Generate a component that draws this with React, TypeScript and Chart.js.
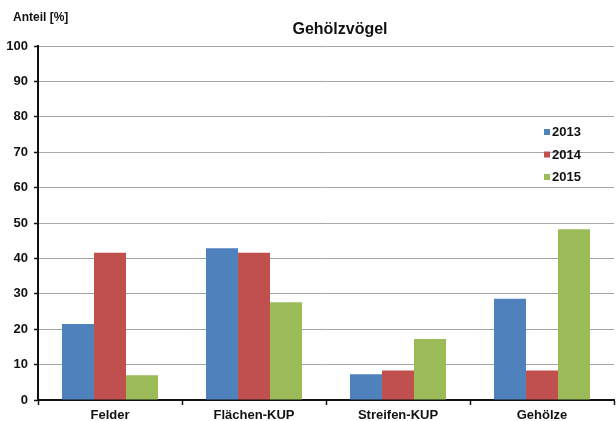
import React, { useEffect, useRef } from "react";
import { Chart, registerables } from "chart.js";

Chart.register(...registerables);

const categories = ["Felder", "Flächen-KUP", "Streifen-KUP", "Gehölze"];
const seriesLabels = ["2013", "2014", "2015"];
const values2013 = [21.5, 42.9, 7.3, 28.6];
const values2014 = [41.6, 41.6, 8.3, 8.3];
const values2015 = [7.0, 27.6, 17.2, 48.2];
const colors = ["#4f81bd", "#c0504d", "#9bbb59"];
const chartTitle = "Gehölzvögel";
const yAxisTitle = "Anteil [%]";

const FONT = "'Liberation Sans', Arial, sans-serif";

const overlayPlugin = {
  id: "overlay",
  afterDraw(chart: any) {
    const ctx = chart.ctx;
    ctx.save();
    ctx.fillStyle = "#111";
    ctx.font = `bold 16px ${FONT}`;
    ctx.textAlign = "center";
    ctx.textBaseline = "middle";
    ctx.fillText(chartTitle, 340, 30);
    ctx.font = `bold 12px ${FONT}`;
    ctx.textAlign = "left";
    ctx.fillText(yAxisTitle, 13, 18);
    // legend
    ctx.font = `bold 13px ${FONT}`;
    chart.data.datasets.forEach((ds: any, i: number) => {
      const y = 132 + i * 22.5;
      ctx.fillStyle = ds.backgroundColor;
      ctx.fillRect(544, y - 3, 6, 6);
      ctx.fillStyle = "#111";
      ctx.textAlign = "left";
      ctx.fillText(ds.label, 552, y + 0.5);
    });
    ctx.restore();
  },
};

export default function App() {
  const ref = useRef<HTMLCanvasElement | null>(null);
  useEffect(() => {
    document.body.style.margin = "0";
    const canvas = ref.current!;
    const chart = new Chart(canvas, {
      type: "bar",
      data: {
        labels: categories,
        datasets: [values2013, values2014, values2015].map((d, i) => ({
          label: seriesLabels[i],
          data: d,
          backgroundColor: colors[i],
          barPercentage: 1,
          categoryPercentage: 0.667,
        })),
      },
      options: {
        responsive: false,
        animation: false,
        layout: { padding: { top: 46, right: 2, left: 0, bottom: 0 } },
        plugins: {
          legend: { display: false },
          title: { display: false },
          tooltip: { enabled: false },
        },
        scales: {
          x: {
            grid: {
              display: true,
              drawOnChartArea: false,
              drawTicks: true,
              offset: true,
              tickLength: 5,
              tickColor: "#111",
              tickWidth: 1.5,
            },
            border: { color: "#111", width: 2 },
            ticks: {
              color: "#111",
              font: { family: FONT, size: 13, weight: "bold" },
              padding: 3,
            },
            afterFit(scale: any) {
              scale.height = 21;
            },
          },
          y: {
            min: 0,
            max: 100,
            ticks: {
              stepSize: 10,
              color: "#111",
              font: { family: FONT, size: 13, weight: "bold" },
              padding: 6,
            },
            grid: {
              color: "#a6a6a6",
              lineWidth: 1,
              tickLength: 4,
              tickColor: "#111",
              tickWidth: 1.5,
            },
            border: { color: "#111", width: 2 },
            afterFit(scale: any) {
              scale.width = 38;
            },
          },
        },
      },
      plugins: [overlayPlugin],
    } as any);
    return () => chart.destroy();
  }, []);
  return <canvas ref={ref} width={616} height={421} style={{ display: "block" }} />;
}
